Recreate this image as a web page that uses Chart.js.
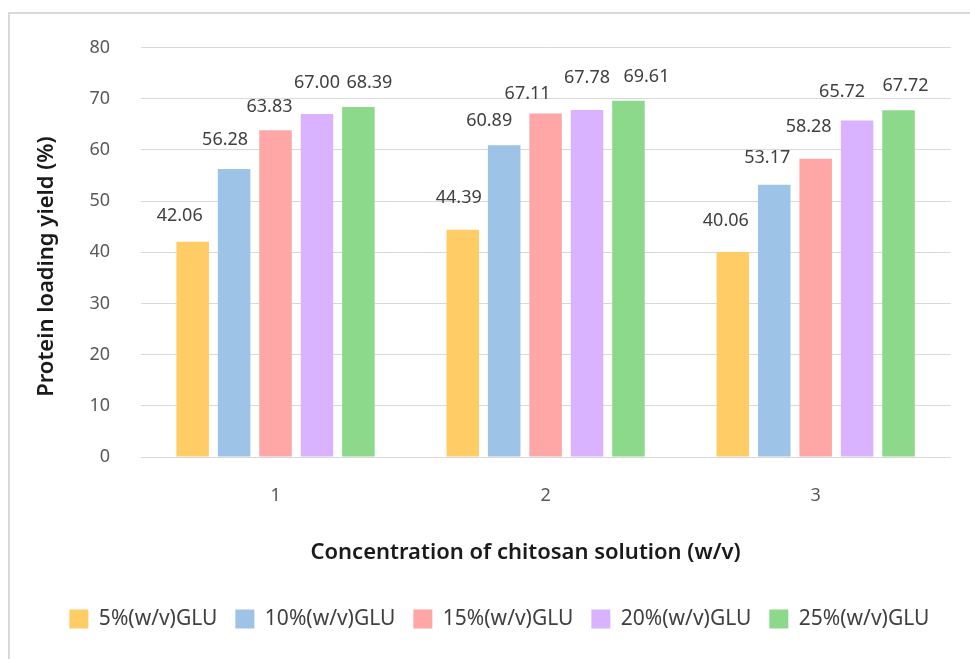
<!DOCTYPE html>
<html>
<head>
<meta charset="utf-8">
<title>Protein loading yield</title>
<script src="https://cdn.jsdelivr.net/npm/chart.js@4/dist/chart.umd.min.js"></script>
<style>
  html, body { margin: 0; padding: 0; background: #fff; overflow: hidden; width: 970px; height: 659px; }
  #chart { position: absolute; left: 0; top: 0; }
  .frame { position: absolute; left: 8px; top: 12px; width: 980px; height: 660px;
           border: 2px solid #d9d9d9; pointer-events: none; }
</style>
</head>
<body>
<canvas id="chart" width="970" height="659"></canvas>
<div class="frame"></div>
<script>
// ---- data ----
const categories = ['1', '2', '3'];
const seriesNames = ['5%(w/v)GLU', '10%(w/v)GLU', '15%(w/v)GLU', '20%(w/v)GLU', '25%(w/v)GLU'];
const glu5  = [42.06, 44.39, 40.06];
const glu10 = [56.28, 60.89, 53.17];
const glu15 = [63.83, 67.11, 58.28];
const glu20 = [67.00, 67.78, 65.72];
const glu25 = [68.39, 69.61, 67.72];
const yTicks = [0, 10, 20, 30, 40, 50, 60, 70, 80];

// ---- look ----
const colors = ['#ffcc66', '#9dc3e6', '#ffa6a6', '#d9b3ff', '#8cd98c'];
// label offsets from bar top [dx, dy] in px, per series then per group
const labelNudge = [
  [[-13, -26], [-4, -32], [-7, -31]],
  [[-9, -29], [-15, -24], [-7, -27]],
  [[-6, -23], [-18, -20], [-7, -32]],
  [[0, -31], [0, -32], [-15, -29]],
  [[11, -24], [18, -24], [7, -24]]
];

Chart.defaults.font.family = "'Noto Sans', 'Open Sans', sans-serif";
Chart.defaults.color = '#595959';

// value labels over each bar
const valueLabels = {
  id: 'valueLabels',
  afterDatasetsDraw(chart, args, opts) {
    const { ctx } = chart;
    ctx.save();
    ctx.font = opts.font;
    ctx.fillStyle = opts.color;
    ctx.textAlign = 'center';
    ctx.textBaseline = 'middle';
    chart.data.datasets.forEach((ds, i) => {
      chart.getDatasetMeta(i).data.forEach((bar, j) => {
        const [dx, dy] = opts.nudge[i][j];
        ctx.fillText(ds.data[j].toFixed(2), bar.x + dx, bar.y + dy);
      });
    });
    ctx.restore();
  }
};

const seriesValues = [glu5, glu10, glu15, glu20, glu25];

new Chart(document.getElementById('chart'), {
  type: 'bar',
  data: {
    labels: categories,
    datasets: seriesNames.map((name, i) => ({
      label: name,
      data: seriesValues[i],
      backgroundColor: colors[i],
      borderWidth: 0,
      categoryPercentage: 0.767,
      barPercentage: 0.785
    }))
  },
  options: {
    responsive: false,
    animation: false,
    layout: { padding: { top: 47.5, right: 19.3, left: 48, bottom: 19.5 } },
    scales: {
      x: {
        grid: { display: false },
        border: { display: false },
        ticks: { padding: 20, font: { size: 18 }, color: '#595959' },
        title: {
          display: true,
          // trailing spaces pull the title a little left of the plot centre
          text: 'Concentration of chitosan solution (w/v)       ',
          font: { size: 22, weight: '600' },
          color: '#1a1a1a',
          padding: { top: 0, bottom: 24.3 }
        },
        afterFit: s => { s.height = 133.5; }
      },
      y: {
        min: 0,
        max: 80,
        afterBuildTicks: s => { s.ticks = yTicks.map(v => ({ value: v })); },
        grid: { color: '#d9d9d9', lineWidth: 1, drawTicks: false },
        border: { display: false },
        ticks: { padding: 30.5, font: { size: 18 }, color: '#595959' },
        title: {
          display: true,
          text: 'Protein loading yield (%)     ',
          font: { size: 22, weight: '600' },
          color: '#1a1a1a',
          padding: { top: -14.2, bottom: 0 }
        },
        afterFit: s => { s.width = 92.5; }
      }
    },
    plugins: {
      legend: {
        position: 'bottom',
        labels: {
          boxWidth: 19,
          boxHeight: 19,
          padding: 18,
          color: '#404040',
          font: { size: 21 }
        }
      },
      tooltip: { enabled: false },
      valueLabels: { font: "18px 'Noto Sans', sans-serif", color: '#404040', nudge: labelNudge }
    }
  },
  plugins: [valueLabels]
});
</script>
</body>
</html>
